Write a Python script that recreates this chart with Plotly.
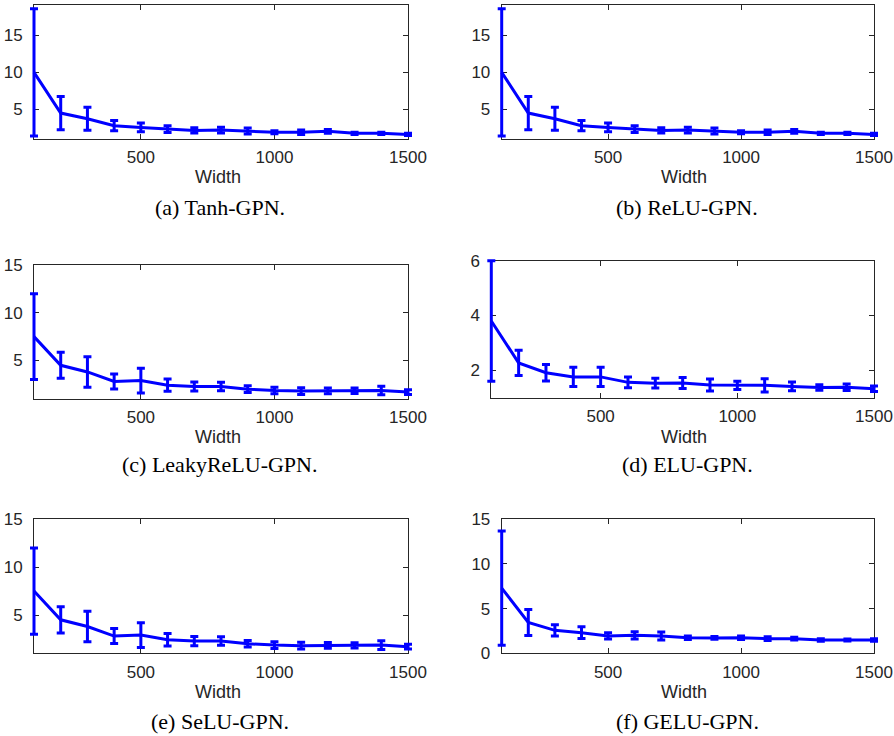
import plotly.graph_objects as go

widths = [100, 200, 300, 400, 500, 600, 700, 800, 900, 1000, 1100, 1200, 1300, 1400, 1500]

tanh_mean = [10.0, 4.5, 3.74, 2.8, 2.57, 2.34, 2.16, 2.2, 2.07, 1.9, 1.9, 2.03, 1.76, 1.76, 1.62]
tanh_err = [8.6, 2.25, 1.55, 0.7, 0.6, 0.45, 0.35, 0.4, 0.4, 0.2, 0.3, 0.25, 0.15, 0.15, 0.15]

relu_mean = [10.0, 4.5, 3.74, 2.8, 2.57, 2.34, 2.16, 2.2, 2.07, 1.9, 1.9, 2.03, 1.76, 1.76, 1.62]
relu_err = [8.6, 2.25, 1.55, 0.7, 0.6, 0.45, 0.35, 0.4, 0.4, 0.2, 0.3, 0.25, 0.15, 0.15, 0.15]

leaky_mean = [7.5, 4.5, 3.8, 2.8, 2.9, 2.42, 2.28, 2.28, 2.0, 1.86, 1.8, 1.83, 1.83, 1.86, 1.69]
leaky_err = [4.5, 1.37, 1.6, 0.78, 1.3, 0.65, 0.48, 0.45, 0.35, 0.35, 0.35, 0.3, 0.28, 0.45, 0.25]

elu_mean = [3.8, 2.27, 1.91, 1.76, 1.76, 1.56, 1.53, 1.54, 1.46, 1.45, 1.45, 1.41, 1.37, 1.38, 1.33]
elu_err = [2.2, 0.46, 0.3, 0.35, 0.35, 0.2, 0.18, 0.2, 0.22, 0.15, 0.24, 0.16, 0.1, 0.12, 0.1]

selu_mean = [7.5, 4.5, 3.8, 2.8, 2.9, 2.42, 2.28, 2.28, 2.0, 1.86, 1.8, 1.83, 1.83, 1.86, 1.69]
selu_err = [4.5, 1.37, 1.6, 0.78, 1.3, 0.65, 0.48, 0.45, 0.35, 0.35, 0.35, 0.3, 0.28, 0.45, 0.25]

gelu_mean = [7.3, 3.45, 2.57, 2.31, 1.94, 2.01, 1.94, 1.75, 1.72, 1.75, 1.64, 1.64, 1.49, 1.49, 1.49]
gelu_err = [6.4, 1.45, 0.63, 0.65, 0.35, 0.4, 0.45, 0.2, 0.15, 0.2, 0.2, 0.15, 0.15, 0.1, 0.15]

captions = ["(a) Tanh-GPN.", "(b) ReLU-GPN.", "(c) LeakyReLU-GPN.",
            "(d) ELU-GPN.", "(e) SeLU-GPN.", "(f) GELU-GPN."]
x_ticks = [500, 1000, 1500]
x_range = [100, 1500]
y_ticks = [[5, 10, 15], [5, 10, 15], [5, 10, 15], [2, 4, 6], [5, 10, 15], [0, 5, 10, 15]]
y_ranges = [[1.0, 19.1], [1.0, 19.1], [1.0, 15.0], [1.0, 6.0], [1.0, 15.0], [0.0, 15.0]]
series = [(tanh_mean, tanh_err), (relu_mean, relu_err), (leaky_mean, leaky_err),
          (elu_mean, elu_err), (selu_mean, selu_err), (gelu_mean, gelu_err)]

W, H = 894, 736
# pixel boxes: (left, right, top, bottom)
boxes = [
    (34, 408, 5, 139),
    (501.7, 874, 5, 139),
    (34, 408, 265, 398.7),
    (491.3, 874, 260.7, 397.7),
    (34, 408, 519.3, 653.3),
    (501.7, 874, 519.3, 653.3),
]
width_label_y = [177, 177, 437, 437, 692, 692]
caption_y = [208, 208, 465, 465, 721, 721]
caption_x = [220, 687, 220, 687, 220, 687]
width_x = [218, 684, 218, 684, 218, 684]
PAD = 8  # unclipped margin (px) for the data layer so edge error bars show fully

TXT = "#262626"
SANS = "Liberation Sans, Arial, sans-serif"

fig = go.Figure()
layout = dict(
    template="none",
    width=W, height=H, margin=dict(l=0, r=0, t=0, b=0, pad=0),
    paper_bgcolor="white", plot_bgcolor="rgba(0,0,0,0)", showlegend=False,
    font=dict(family=SANS, color=TXT),
)
annotations = []
for i, ((m, e), (l, r, t, b)) in enumerate(zip(series, boxes)):
    n_frame = 2 * i + 1
    n_data = 2 * i + 2
    fx = "x" if n_frame == 1 else f"x{n_frame}"
    fy = "y" if n_frame == 1 else f"y{n_frame}"
    dx, dy = f"x{n_data}", f"y{n_data}"

    axis_common = dict(
        showline=True, linecolor=TXT, linewidth=1, mirror="ticks",
        ticks="inside", ticklen=5, tickcolor=TXT, tickwidth=1,
        showgrid=False, zeroline=False, automargin=False, fixedrange=True,
        tickfont=dict(size=17, color=TXT, family=SANS),
    )
    layout["xaxis" if n_frame == 1 else f"xaxis{n_frame}"] = dict(
        domain=[l / W, r / W], range=x_range, tickvals=x_ticks,
        anchor=fy, ticklabelstandoff=3, **axis_common)
    layout["yaxis" if n_frame == 1 else f"yaxis{n_frame}"] = dict(
        domain=[1 - b / H, 1 - t / H], range=y_ranges[i], tickvals=y_ticks[i],
        anchor=fx, ticklabelstandoff=7, **axis_common)

    # data axes: same scale, slightly larger clip area
    pl, pr = min(PAD, l), min(PAD, W - r)
    pt, pb = min(PAD, t), min(PAD, H - b)
    sx = (r - l) / (x_range[1] - x_range[0])
    yr = y_ranges[i]
    sy = (b - t) / (yr[1] - yr[0])
    layout[f"xaxis{n_data}"] = dict(
        domain=[(l - pl) / W, (r + pr) / W],
        range=[x_range[0] - pl / sx, x_range[1] + pr / sx],
        anchor=dy, visible=False, automargin=False, fixedrange=True)
    layout[f"yaxis{n_data}"] = dict(
        domain=[1 - (b + pb) / H, 1 - (t - pt) / H],
        range=[yr[0] - pb / sy, yr[1] + pt / sy],
        anchor=dx, visible=False, automargin=False, fixedrange=True)

    fig.add_trace(go.Scatter(x=[], y=[], xaxis=fx, yaxis=fy, hoverinfo="skip"))
    fig.add_trace(go.Scatter(
        x=widths, y=m, mode="lines", xaxis=dx, yaxis=dy,
        line=dict(color="#0000FF", width=3),
        error_y=dict(type="data", array=e, visible=True, color="#0000FF",
                     thickness=3, width=4),
    ))

    annotations.append(dict(
        x=width_x[i] / W, y=1 - width_label_y[i] / H, xref="paper", yref="paper",
        text="Width", showarrow=False, xanchor="center", yanchor="middle",
        font=dict(size=18, color=TXT, family=SANS)))
    annotations.append(dict(
        x=caption_x[i] / W, y=1 - caption_y[i] / H, xref="paper", yref="paper",
        text=captions[i], showarrow=False, xanchor="center", yanchor="middle",
        font=dict(size=22, color="black", family="Liberation Serif, Times New Roman, serif")))

layout["annotations"] = annotations
fig.update_layout(**layout)
fig.write_html("out.html", config={"displayModeBar": False},
               post_script="document.body.style.margin='0';")
